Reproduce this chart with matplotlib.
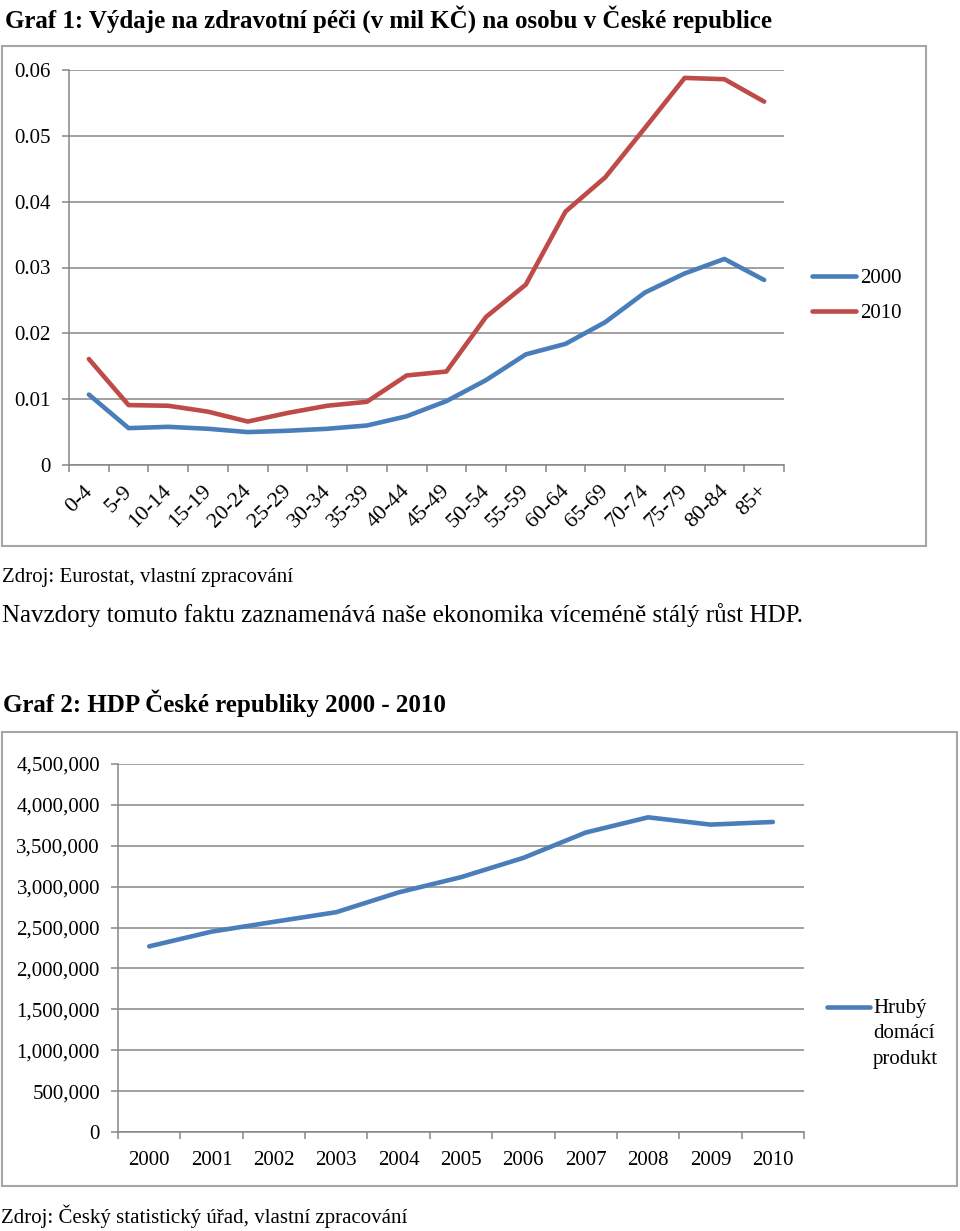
import matplotlib
matplotlib.use("Agg")
import matplotlib.pyplot as plt
import matplotlib.transforms as mtransforms
from matplotlib.lines import Line2D
from matplotlib.patches import Rectangle
from matplotlib.ticker import FuncFormatter, MultipleLocator

plt.rcParams['font.family'] = ['Liberation Serif', 'DejaVu Serif']

# Graf 1 - výdaje na osobu podle věku
vekove_skupiny = ['0-4', '5-9', '10-14', '15-19', '20-24', '25-29', '30-34', '35-39',
                  '40-44', '45-49', '50-54', '55-59', '60-64', '65-69', '70-74',
                  '75-79', '80-84', '85+']
vydaje_2000 = [0.0107, 0.0056, 0.0058, 0.0055, 0.0050, 0.0052, 0.0055, 0.0060, 0.0074,
               0.0097, 0.0129, 0.0168, 0.0184, 0.0217, 0.0262, 0.0291, 0.0313, 0.0281]
vydaje_2010 = [0.0161, 0.0091, 0.0090, 0.0081, 0.0066, 0.0079, 0.0090, 0.0096, 0.0136,
               0.0142, 0.0225, 0.0274, 0.0385, 0.0437, 0.0512, 0.0588, 0.0586, 0.0552]

# Graf 2 - HDP
roky = ['2000', '2001', '2002', '2003', '2004', '2005', '2006', '2007', '2008', '2009', '2010']
hdp = [2270000, 2450000, 2570000, 2688000, 2930000, 3116000, 3352000, 3662000,
       3848000, 3759000, 3791000]
hdp_popisek = ['Hrubý', 'domácí', 'produkt']

W, H = 960, 1231
BLUE = '#4A7EBB'
RED = '#BE4B48'
GRID = '#868686'

fig = plt.figure(figsize=(W / 100, H / 100), dpi=100)


def box(x0, y0, x1, y1):
    # pixely (počátek vlevo nahoře) -> zlomek obrázku
    return [x0 / W, 1 - y1 / H, (x1 - x0) / W, (y1 - y0) / H]


def fy(y):
    return 1 - y / H


def style_axes(ax):
    for s in ['top', 'right']:
        ax.spines[s].set_visible(False)
    for s in ['left', 'bottom']:
        ax.spines[s].set_color(GRID)
        ax.spines[s].set_linewidth(1.1)
    ax.grid(axis='y', color=GRID, linewidth=1.1)
    ax.set_axisbelow(True)
    ax.tick_params(axis='both', color=GRID, width=1.1, length=5, labelsize=15, pad=8)
    ax.tick_params(axis='x', which='minor', color=GRID, width=1.1, length=5)
    ax.tick_params(axis='x', which='major', length=0)


# rámečky grafů
fig.patches.append(Rectangle((2 / W, fy(546)), 924 / W, 500 / H, transform=fig.transFigure,
                             fill=False, edgecolor='#a6a6a6', linewidth=1.5))
fig.patches.append(Rectangle((2 / W, fy(1186)), 955 / W, 454 / H, transform=fig.transFigure,
                             fill=False, edgecolor='#a6a6a6', linewidth=1.5))

# texty stránky
fig.text(5 / W, fy(19), 'Graf 1: Výdaje na zdravotní péči (v mil KČ) na osobu v České republice',
         fontsize=18, fontweight='bold', va='center')
fig.text(2 / W, fy(577), 'Zdroj: Eurostat, vlastní zpracování', fontsize=15, va='center')
fig.text(2 / W, fy(615), 'Navzdory tomuto faktu zaznamenává naše ekonomika víceméně stálý růst HDP.',
         fontsize=18, va='center')
fig.text(3 / W, fy(703), 'Graf 2: HDP České republiky 2000 - 2010',
         fontsize=18, fontweight='bold', va='center')
fig.text(1 / W, fy(1216), 'Zdroj: Český statistický úřad, vlastní zpracování', fontsize=15, va='center')

# Graf 1
ax1 = fig.add_axes(box(69, 70, 784, 465))
x1 = range(len(vekove_skupiny))
ax1.plot(x1, vydaje_2000, color=BLUE, linewidth=3.3, solid_capstyle='round', label='2000')
ax1.plot(x1, vydaje_2010, color=RED, linewidth=3.3, solid_capstyle='round', label='2010')
ax1.set_xlim(-0.5, len(vekove_skupiny) - 0.5)
ax1.set_ylim(0, 0.06)
ax1.yaxis.set_major_locator(MultipleLocator(0.01))
ax1.yaxis.set_major_formatter(FuncFormatter(lambda v, p: '0' if v == 0 else f'{v:.2f}'))
ax1.set_xticks(list(x1))
ax1.set_xticks([i - 0.5 for i in range(len(vekove_skupiny) + 1)], minor=True)
ax1.set_xticklabels(vekove_skupiny, rotation=45, ha='right', va='top', rotation_mode='anchor')
style_axes(ax1)
ax1.tick_params(axis='x', which='major', pad=12, labelsize=16)
posun = mtransforms.ScaledTranslation(-6 / 100, 0, fig.dpi_scale_trans)
for lab in ax1.get_xticklabels():
    lab.set_transform(lab.get_transform() + posun)
ax1.legend(loc='center left', bbox_to_anchor=(812 / W, fy(296)), bbox_transform=fig.transFigure,
           frameon=False, fontsize=15, handlelength=2.1, handletextpad=0.2, labelspacing=0.75,
           borderpad=0, borderaxespad=0)

# Graf 2
ax2 = fig.add_axes(box(118, 764, 804, 1132))
x2 = range(len(roky))
ax2.plot(x2, hdp, color=BLUE, linewidth=3.3, solid_capstyle='round')
ax2.set_xlim(-0.5, len(roky) - 0.5)
ax2.set_ylim(0, 4500000)
ax2.yaxis.set_major_locator(MultipleLocator(500000))
ax2.yaxis.set_major_formatter(FuncFormatter(lambda v, p: f'{int(v):,}'))
ax2.set_xticks(list(x2))
ax2.set_xticks([i - 0.5 for i in range(len(roky) + 1)], minor=True)
ax2.set_xticklabels(roky)
style_axes(ax2)
ax2.tick_params(axis='x', which='major', pad=14)

# legenda HDP - značka u prvního řádku, text zarovnaný vlevo
fig.add_artist(Line2D([827 / W, 870 / W], [fy(1007), fy(1007)], transform=fig.transFigure,
                      color=BLUE, linewidth=3.3, solid_capstyle='round'))
fig.text(873 / W, fy(999), '\n'.join(hdp_popisek), fontsize=15, va='top', ha='left',
         linespacing=1.45)

fig.savefig('out.png', dpi=100)
